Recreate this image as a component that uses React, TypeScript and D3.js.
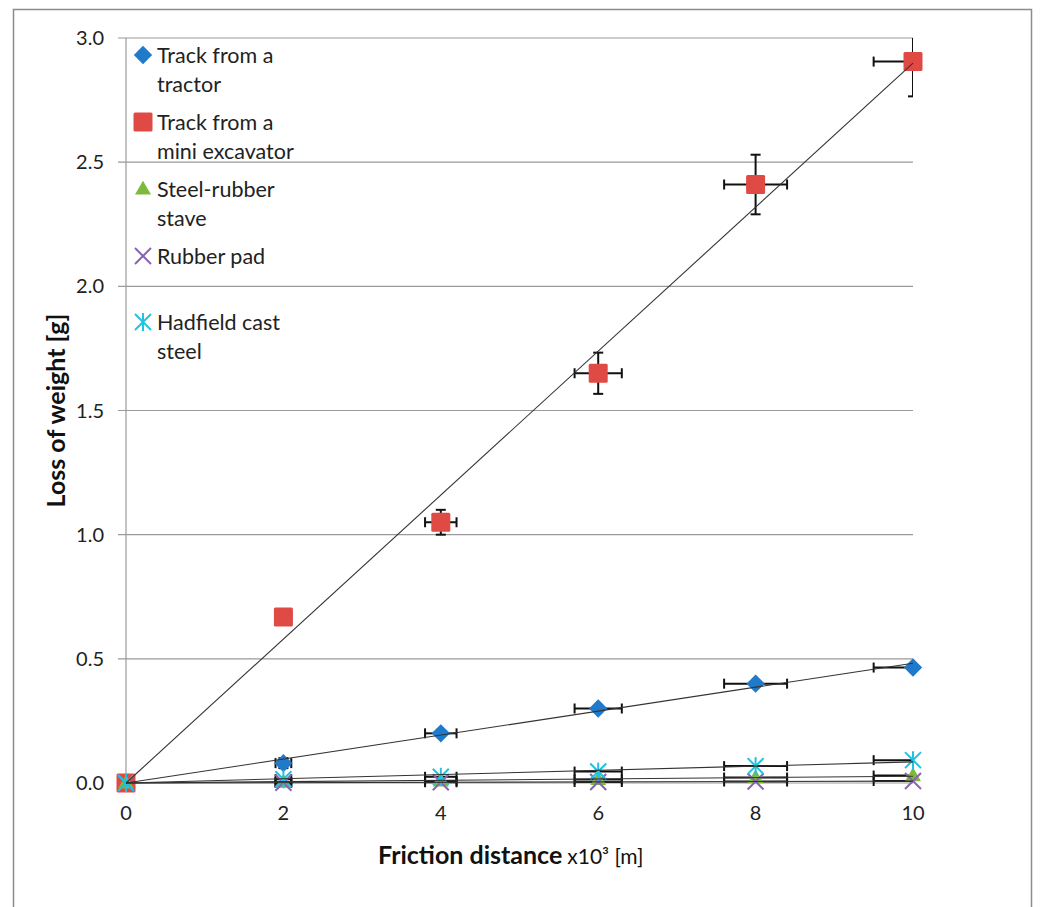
import * as d3 from 'd3';

const distance = [0, 2, 4, 6, 8, 10];
const tractor = [0, 0.08, 0.2, 0.3, 0.4, 0.465];
const excavator = [0, 0.668, 1.05, 1.65, 2.41, 2.905];
const steelRubber = [0, 0.003, 0.008, 0.014, 0.022, 0.03];
const rubberPad = [0, 0.001, 0.003, 0.004, 0.006, 0.008];
const hadfield = [0, 0.015, 0.025, 0.046, 0.068, 0.092];

// horizontal error (same for every series), vertical error per series
const xError = [0, 0.1, 0.2, 0.3, 0.4, 0.5];
const excavatorYError = [0, 0, 0.05, 0.083, 0.12, 0.14];
const tractorYError = [0, 0.02, 0, 0, 0, 0];

const yTicks = [0, 0.5, 1.0, 1.5, 2.0, 2.5, 3.0];
const xTicks = [0, 2, 4, 6, 8, 10];

type Shape = 'diamond' | 'square' | 'triangle' | 'x' | 'star';

const series: {
  name: string[];
  values: number[];
  yErr: number[];
  color: string;
  shape: Shape;
}[] = [
  { name: ['Track from a', 'tractor'], values: tractor, yErr: tractorYError, color: '#1f7acb', shape: 'diamond' },
  { name: ['Track from a', 'mini excavator'], values: excavator, yErr: excavatorYError, color: '#e04a45', shape: 'square' },
  { name: ['Steel-rubber', 'stave'], values: steelRubber, yErr: [0, 0, 0, 0, 0, 0], color: '#7dba3c', shape: 'triangle' },
  { name: ['Rubber pad'], values: rubberPad, yErr: [0, 0, 0, 0, 0, 0], color: '#8a62b5', shape: 'x' },
  { name: ['Hadfield cast', 'steel'], values: hadfield, yErr: [0, 0, 0, 0, 0, 0], color: '#1fc3e0', shape: 'star' },
];

const WIDTH = 1040;
const HEIGHT = 907;
const PLOT = { left: 126, right: 913, top: 38, bottom: 783 };
const FONT = 'Lato, "Open Sans", sans-serif';

function Marker({ shape, color, x, y }: { shape: Shape; color: string; x: number; y: number }) {
  if (shape === 'diamond') {
    return <rect x={-6.5} y={-6.5} width={13} height={13} fill={color}
      transform={`translate(${x},${y}) rotate(45)`} />;
  }
  if (shape === 'square') {
    return <rect x={x - 9.5} y={y - 9.5} width={19} height={19} rx={1.5} fill={color} />;
  }
  if (shape === 'triangle') {
    const p = d3.symbol().type(d3.symbolTriangle).size(110)();
    return <path d={p ?? ''} fill={color} transform={`translate(${x},${y + 1})`} />;
  }
  const r = 8;
  const lines: [number, number, number, number][] = [[-r, -r, r, r], [-r, r, r, -r]];
  if (shape === 'star') lines.push([0, -r - 1, 0, r + 1]);
  return (
    <g transform={`translate(${x},${y})`} stroke={color} strokeWidth={2}>
      {lines.map((l, i) => <line key={i} x1={l[0]} y1={l[1]} x2={l[2]} y2={l[3]} />)}
    </g>
  );
}

export default function App() {
  const x = d3.scaleLinear().domain([0, 10]).range([PLOT.left, PLOT.right]);
  const y = d3.scaleLinear().domain([0, 3]).range([PLOT.bottom, PLOT.top]);

  // linear trend through the origin, least squares
  const slope = (vals: number[]) =>
    d3.sum(distance, (d, i) => d * vals[i]) / d3.sum(distance, (d) => d * d);

  const cap = 5;

  return (
    <svg width={WIDTH} height={HEIGHT} style={{ position: 'absolute', left: 0, top: 0, fontFamily: FONT }}>
      <rect x={0} y={0} width={WIDTH} height={HEIGHT} fill="#fff" />
      <rect x={13.5} y={9.5} width={1018} height={910} fill="none" stroke="#8c8c8c" strokeWidth={1.5} />
      <defs>
        <clipPath id="plot">
          <rect x={PLOT.left - 12} y={PLOT.top} width={PLOT.right - PLOT.left + 12} height={PLOT.bottom - PLOT.top + 12} />
        </clipPath>
      </defs>

      {/* gridlines and y ticks */}
      {yTicks.map((t) => (
        <g key={t}>
          <line x1={PLOT.left - 8} x2={PLOT.right} y1={y(t)} y2={y(t)} stroke="#9a9a9a" strokeWidth={1.2} />
          <text x={PLOT.left - 22} y={y(t)} dy="0.35em" textAnchor="end" fontSize={20} fill="#222">
            {t.toFixed(1)}
          </text>
        </g>
      ))}
      <line x1={PLOT.left} x2={PLOT.left} y1={PLOT.top} y2={PLOT.bottom} stroke="#9a9a9a" strokeWidth={1.2} />
      {xTicks.map((t) => (
        <text key={t} x={x(t)} y={PLOT.bottom + 30} dy="0.35em" textAnchor="middle" fontSize={20} fill="#222">
          {t}
        </text>
      ))}

      {/* error bars */}
      <g clipPath="url(#plot)">
        {series.map((s) =>
          distance.map((d, i) => {
            if (i === 0) return null;
            const cx = x(d);
            const cy = y(s.values[i]);
            const xl = x(d - xError[i]);
            const xr = Math.min(x(d + xError[i]), PLOT.right);
            const ye = s.yErr[i];
            return (
              <g key={s.shape + i} stroke="#111" strokeWidth={2}>
                <line x1={xl} x2={xr} y1={cy} y2={cy} />
                <line x1={xl} x2={xl} y1={cy - cap} y2={cy + cap} />
                {d + xError[i] <= 10 && <line x1={xr} x2={xr} y1={cy - cap} y2={cy + cap} />}
                {ye > 0 && (
                  <>
                    <line x1={cx} x2={cx} y1={y(s.values[i] - ye)} y2={y(s.values[i] + ye)} />
                    <line x1={cx - cap} x2={cx + cap} y1={y(s.values[i] - ye)} y2={y(s.values[i] - ye)} />
                    <line x1={cx - cap} x2={cx + cap} y1={y(s.values[i] + ye)} y2={y(s.values[i] + ye)} />
                  </>
                )}
              </g>
            );
          }),
        )}
      </g>

      {/* markers */}
      {series.map((s) =>
        distance.map((d, i) => (
          <Marker key={s.shape + i} shape={s.shape} color={s.color} x={x(d)} y={y(s.values[i])} />
        )),
      )}

      {/* trend lines */}
      {series.map((s) => {
        const k = slope(s.values);
        return (
          <line key={s.shape} x1={x(0)} y1={y(0)} x2={x(10)} y2={y(k * 10)}
            stroke="#333" strokeWidth={1.1} />
        );
      })}

      {/* legend */}
      {(() => {
        let cy = 55;
        return series.map((s) => {
          const top = cy;
          cy += s.name.length * 30 + 7;
          if (s.name.length === 1) cy += 29;
          return (
            <g key={s.shape}>
              <Marker shape={s.shape} color={s.color} x={143} y={top} />
              {s.name.map((line, j) => (
                <text key={j} x={157} y={top + j * 29.5} dy="0.35em" fontSize={21.5} fill="#222">
                  {line}
                </text>
              ))}
            </g>
          );
        });
      })()}

      {/* axis titles */}
      <text x={378} y={864} fontSize={25} fontWeight="bold" fill="#111">
        Friction distance
        <tspan fontSize={21} fontWeight="normal" dx={5}>x10³ [m]</tspan>
      </text>
      <text transform={`translate(65,${(PLOT.top + PLOT.bottom) / 2}) rotate(-90)`}
        textAnchor="middle" fontSize={25} fontWeight="bold" fill="#111">
        Loss of weight [g]
      </text>
    </svg>
  );
}
